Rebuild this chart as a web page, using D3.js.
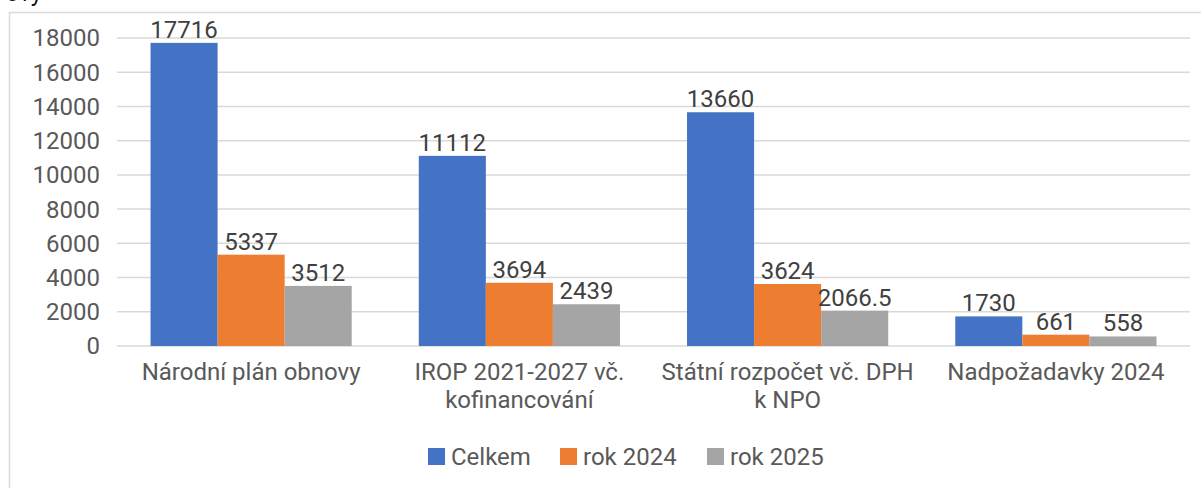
<!DOCTYPE html>
<html lang="cs">
<head>
  <meta charset="UTF-8">
  <title>Národní plán obnovy</title>
  <script src="https://d3js.org/d3.v7.min.js"></script>
  <style>
    body { margin: 0; background: #fff; font-family: Roboto, Arial, sans-serif; }
    .tick-label { fill: #595959; font-size: 24px; }
    .cat-label { fill: #595959; font-size: 24px; }
    .value-label { fill: #404040; font-size: 24px; }
    .legend text { fill: #595959; font-size: 24px; }
  </style>
</head>
<body>
  <div id="chart"></div>
  <script>
    const categories = ["Národní plán obnovy", "IROP 2021-2027 vč. kofinancování", "Státní rozpočet vč. DPH k NPO", "Nadpožadavky 2024"];
    const seriesNames = ["Celkem", "rok 2024", "rok 2025"];
    const celkem = [17716, 11112, 13660, 1730];
    const rok2024 = [5337, 3694, 3624, 661];
    const rok2025 = [3512, 2439, 2066.5, 558];
    const yTicks = [0, 2000, 4000, 6000, 8000, 10000, 12000, 14000, 16000, 18000];
    const colors = ["#4472C4", "#ED7D31", "#A5A5A5"];

    const series = [celkem, rok2024, rok2025];
    const width = 1201, height = 488;
    const margin = { left: 117, right: 11, top: 38, bottom: 142 };

    const svg = d3.select("#chart").append("svg")
      .attr("width", width)
      .attr("height", height);

    // cut-off text of the document above the chart
    svg.append("text")
      .attr("x", 42)
      .attr("y", 1)
      .attr("text-anchor", "end")
      .style("font-size", "24px")
      .attr("fill", "#111")
      .text("ovy");

    // frame of the chart area
    svg.append("path")
      .attr("d", `M9.5,${height} V12.5 H${width}`)
      .attr("fill", "none")
      .attr("stroke", "#d9d9d9")
      .attr("stroke-width", 1.5);

    const x = d3.scaleBand()
      .domain(categories)
      .range([margin.left, width - margin.right])
      .paddingInner(0.25)
      .paddingOuter(0.125);

    const xs = d3.scaleBand()
      .domain(seriesNames)
      .range([0, x.bandwidth()]);

    const y = d3.scaleLinear()
      .domain([0, 18000])
      .range([height - margin.bottom, margin.top]);

    // gridlines
    svg.append("g")
      .selectAll("line")
      .data(yTicks)
      .join("line")
      .attr("x1", margin.left)
      .attr("x2", width - margin.right)
      .attr("y1", d => y(d))
      .attr("y2", d => y(d))
      .attr("stroke", "#d9d9d9")
      .attr("stroke-width", 1.5);

    // y tick labels
    svg.append("g")
      .selectAll("text")
      .data(yTicks)
      .join("text")
      .attr("class", "tick-label")
      .attr("x", 100)
      .attr("y", d => y(d))
      .attr("dy", "0.35em")
      .attr("text-anchor", "end")
      .text(d => d);

    // bars
    const groups = svg.append("g")
      .selectAll("g")
      .data(categories)
      .join("g")
      .attr("transform", d => `translate(${x(d)},0)`);

    groups.selectAll("rect")
      .data((d, i) => series.map((s, j) => ({ name: seriesNames[j], value: s[i], j })))
      .join("rect")
      .attr("x", d => xs(d.name))
      .attr("width", xs.bandwidth())
      .attr("y", d => y(d.value))
      .attr("height", d => y(0) - y(d.value))
      .attr("fill", d => colors[d.j]);

    groups.selectAll(".value-label")
      .data((d, i) => series.map((s, j) => ({ name: seriesNames[j], value: s[i] })))
      .join("text")
      .attr("class", "value-label")
      .attr("x", d => xs(d.name) + xs.bandwidth() / 2)
      .attr("y", d => y(d.value) - 5)
      .attr("text-anchor", "middle")
      .text(d => d.value);

    // category labels, wrapped into lines
    function wrap(words, maxWidth, textEl) {
      const lines = [];
      let line = [];
      words.forEach(w => {
        line.push(w);
        textEl.text(line.join(" "));
        if (textEl.node().getComputedTextLength() > maxWidth && line.length > 1) {
          line.pop();
          lines.push(line.join(" "));
          line = [w];
        }
      });
      lines.push(line.join(" "));
      return lines;
    }

    svg.append("g")
      .selectAll("text")
      .data(categories)
      .join("text")
      .attr("class", "cat-label")
      .attr("text-anchor", "middle")
      .attr("y", 380)
      .each(function (d) {
        const t = d3.select(this);
        const lines = wrap(d.split(" "), 262, t);
        t.text(null);
        lines.forEach((l, i) => {
          t.append("tspan")
            .attr("x", x(d) + x.bandwidth() / 2)
            .attr("y", 380 + i * 28)
            .text(l);
        });
      });

    // legend
    const legend = svg.append("g").attr("class", "legend");
    const legendX = [428, 560, 707];
    seriesNames.forEach((name, i) => {
      const g = legend.append("g").attr("transform", `translate(${legendX[i]},448)`);
      g.append("rect")
        .attr("width", 17)
        .attr("height", 17)
        .attr("fill", colors[i]);
      g.append("text")
        .attr("x", 23)
        .attr("y", 17)
        .text(name);
    });
  </script>
</body>
</html>
